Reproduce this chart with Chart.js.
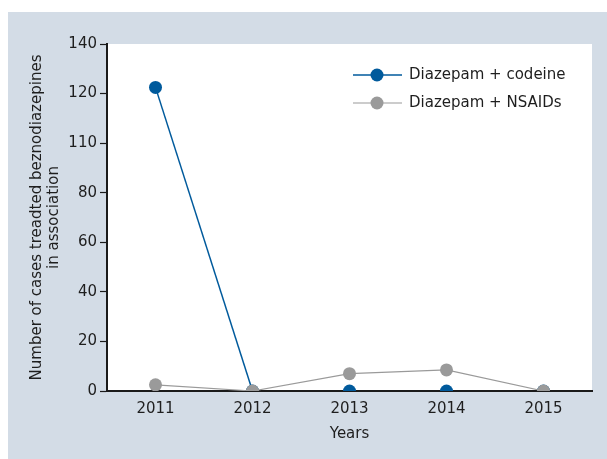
<!DOCTYPE html>
<html>
<head>
<meta charset="utf-8">
<script src="https://cdn.jsdelivr.net/npm/chart.js@4.4.1/dist/chart.umd.min.js"></script>
<style>
  html, body { margin: 0; padding: 0; background: #ffffff; }
  #wrap { width: 607px; height: 459px; }
</style>
</head>
<body>
<div id="wrap"><canvas id="c" width="607" height="459"></canvas></div>
<script>
const years = ['2011', '2012', '2013', '2014', '2015'];
const codeine = [122.5, 0, 0, 0, 0];
const nsaids = [2.5, 0, 7, 8.5, 0];
const yTickLabels = ['0', '20', '40', '60', '80', '110', '120', '140'];
const seriesNames = ['Diazepam + codeine', 'Diazepam + NSAIDs'];
const xTitle = 'Years';
const yTitle = ['Number of cases treadted beznodiazepines', 'in association'];

const BLUE = '#005a9c';
const GRAY = '#9a9a9a';
const PANEL = '#d3dce6';
const FONT = 'DejaVu Sans';
const TEXT = '#1e1e1e';

const bgPlugin = {
  id: 'bg',
  beforeDraw(chart) {
    const ctx = chart.ctx, a = chart.chartArea;
    ctx.save();
    ctx.fillStyle = PANEL;
    ctx.fillRect(8, 12, chart.width - 8, chart.height - 12);
    ctx.fillStyle = '#ffffff';
    ctx.fillRect(a.left, a.top, a.right - a.left, a.bottom - a.top);
    ctx.restore();
  }
};

const legendPlugin = {
  id: 'insideLegend',
  afterDraw(chart) {
    const ctx = chart.ctx, a = chart.chartArea;
    ctx.save();
    chart.data.datasets.forEach((ds, i) => {
      const y = a.top + 31 + i * 28;
      const x0 = a.right - 239;
      ctx.strokeStyle = ds.borderColor;
      ctx.lineWidth = ds.borderWidth;
      ctx.beginPath();
      ctx.moveTo(x0, y);
      ctx.lineTo(x0 + 49, y);
      ctx.stroke();
      ctx.fillStyle = ds.pointBackgroundColor;
      ctx.beginPath();
      ctx.arc(x0 + 24, y, 6.5, 0, Math.PI * 2);
      ctx.fill();
      ctx.fillStyle = TEXT;
      ctx.font = '15px "' + FONT + '"';
      ctx.textBaseline = 'middle';
      ctx.textAlign = 'left';
      ctx.fillText(ds.label, x0 + 56, y);
    });
    ctx.restore();
  }
};

new Chart(document.getElementById('c'), {
  type: 'line',
  data: {
    labels: years,
    datasets: [
      {
        label: seriesNames[0],
        data: codeine,
        borderColor: BLUE,
        backgroundColor: BLUE,
        pointBackgroundColor: BLUE,
        pointBorderWidth: 0,
        pointRadius: 6.5,
        borderWidth: 1.5,
        tension: 0,
        order: 1,
        segment: {
          borderColor: c => (c.p0.parsed.y === 0 && c.p1.parsed.y === 0) ? 'rgba(0,0,0,0)' : BLUE
        }
      },
      {
        label: seriesNames[1],
        data: nsaids,
        borderColor: GRAY,
        backgroundColor: GRAY,
        pointBackgroundColor: GRAY,
        pointBorderWidth: 0,
        pointRadius: 6.5,
        borderWidth: 1.2,
        tension: 0,
        order: 0
      }
    ]
  },
  options: {
    responsive: false,
    animation: false,
    events: [],
    layout: { padding: { left: 8, top: 44, right: 15, bottom: 0 } },
    plugins: {
      legend: { display: false },
      tooltip: { enabled: false }
    },
    scales: {
      x: {
        offset: true,
        grid: { display: true, drawOnChartArea: false, tickLength: 6, tickColor: 'rgba(0,0,0,0)' },
        border: { display: true, color: '#1a1a1a', width: 2 },
        ticks: { color: TEXT, font: { family: FONT, size: 15 }, padding: 3, maxRotation: 0 },
        title: { display: true, text: xTitle, color: TEXT, font: { family: FONT, size: 15 }, padding: { top: 6, bottom: 16 } },
        afterFit(s) { s.height = 68; }
      },
      y: {
        min: 0,
        max: 140,
        grid: { display: true, drawOnChartArea: false, tickLength: 7, tickColor: '#1a1a1a', tickWidth: 1.2 },
        border: { display: true, color: '#1a1a1a', width: 2 },
        ticks: {
          stepSize: 20,
          color: TEXT,
          font: { family: FONT, size: 15 },
          padding: 3,
          callback: (v, i) => yTickLabels[i]
        },
        title: { display: true, text: yTitle, color: TEXT, font: { family: FONT, size: 15, lineHeight: 1.15 }, padding: { top: 20, bottom: 0 } },
        afterFit(s) { s.width = 99; }
      }
    }
  },
  plugins: [bgPlugin, legendPlugin]
});
</script>
</body>
</html>
